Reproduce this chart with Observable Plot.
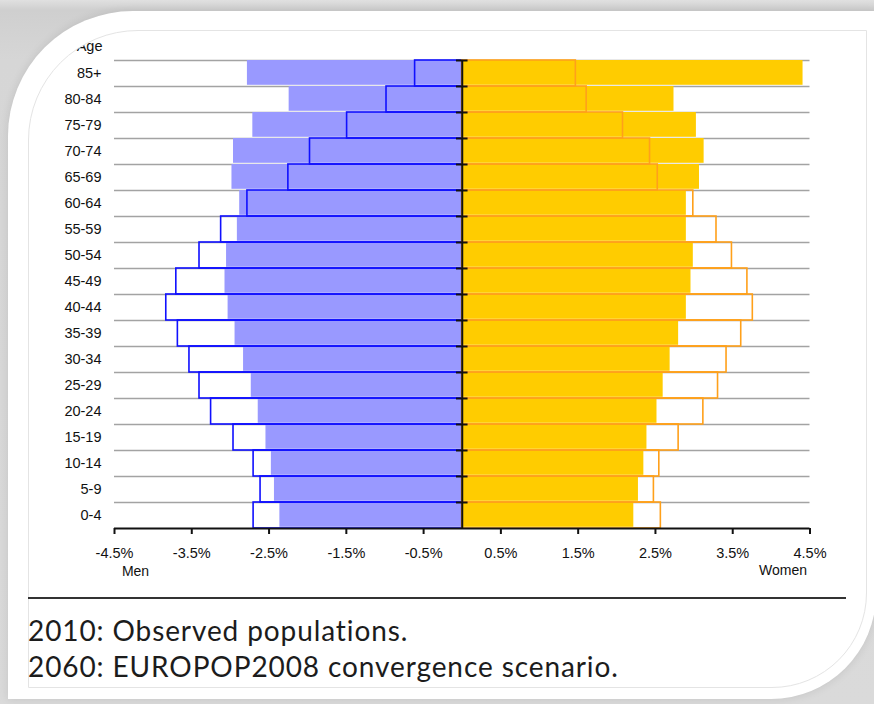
<!DOCTYPE html>
<html>
<head>
<meta charset="utf-8">
<script src="https://cdn.jsdelivr.net/npm/d3@7"></script>
<script src="https://cdn.jsdelivr.net/npm/@observablehq/plot@0.6"></script>
<style>
  html, body { margin: 0; padding: 0; }
  body { width: 874px; height: 704px; position: relative; overflow: hidden;
         background: linear-gradient(180deg, #e0e0e0 0px, #cfcfcf 10px, #d6d6d6 60px, #dadada 100%); }
  #card { position: absolute; left: 8px; top: 11px; right: -2px; bottom: 5px; background: #fff;
          border-radius: 125px 0 105px 0; box-shadow: 0 0 10px rgba(0,0,0,0.10); }
  #frame { position: absolute; left: 28px; top: 30px; width: 837px; height: 656px;
           border: 1px solid #e4e4e4; border-radius: 110px 0 95px 0; overflow: hidden; }
  #chart { position: absolute; left: -29px; top: -31px; width: 874px; height: 600px; }
  #chart svg { max-width: none; display: block; }
  #rule { position: absolute; left: 28px; top: 597px; width: 818px; height: 2px; background: #333; }
  #caption { position: absolute; left: 28px; top: 612px; font-family: Lato, "DejaVu Sans", sans-serif;
             font-size: 28px; letter-spacing: 0.9px; line-height: 36px; color: #1c1c1c; white-space: nowrap; }
</style>
</head>
<body>
<div id="card"></div>
<div id="frame"><div id="chart"></div></div>
<div id="rule"></div>
<div id="caption">2010: Observed populations.<br>2060: EUROPOP2008 convergence scenario.</div>
<script>
// Age groups, bottom to top
const ages = ["0-4","5-9","10-14","15-19","20-24","25-29","30-34","35-39","40-44","45-49",
              "50-54","55-59","60-64","65-69","70-74","75-79","80-84","85+"];
// Shares of total population (%)
const men2060   = [2.36,2.43,2.47,2.54,2.64,2.73,2.83,2.94,3.03,3.07,3.05,2.91,2.88,2.98,2.96,2.71,2.24,2.78];
const men2010   = [2.70,2.61,2.70,2.96,3.25,3.40,3.53,3.68,3.83,3.70,3.40,3.12,2.78,2.25,1.97,1.49,0.98,0.61];
const women2060 = [2.22,2.28,2.35,2.39,2.52,2.60,2.69,2.80,2.90,2.96,2.99,2.90,2.90,3.07,3.13,3.03,2.74,4.41];
const women2010 = [2.57,2.48,2.55,2.80,3.12,3.31,3.42,3.61,3.76,3.69,3.49,3.29,2.99,2.53,2.43,2.08,1.61,1.47];
const xTicks = [-4.5,-3.5,-2.5,-1.5,-0.5,0.5,1.5,2.5,3.5,4.5];

const table = ages.map((age, i) => ({
  age, i, m60: men2060[i], m10: men2010[i], w60: women2060[i], w10: women2010[i]
}));
const bounds = d3.range(1, ages.length + 1);
const mids = ages.map((a, i) => i + 0.5);

const font = "'Liberation Sans', Arial, sans-serif";

const chart = Plot.plot({
  width: 874,
  height: 600,
  marginLeft: 114,
  marginRight: 64.5,
  marginTop: 60,
  marginBottom: 72,
  style: { fontFamily: font, fontSize: "14px", color: "#111", background: "transparent" },
  x: { domain: [-4.5, 4.5] },
  y: { domain: [0, ages.length] },
  marks: [
    Plot.ruleY(bounds, { stroke: "#a3a3a3", strokeWidth: 1.6 }),
    Plot.rect(table, { x1: 0, x2: d => -d.m60, y1: "i", y2: d => d.i + 1, fill: "#9999ff", insetBottom: 1.2 }),
    Plot.rect(table, { x1: 0, x2: "w60", y1: "i", y2: d => d.i + 1, fill: "#ffcc00", insetBottom: 1.2 }),
    Plot.rect(table, { x1: 0, x2: d => -d.m10, y1: "i", y2: d => d.i + 1, fill: "none", stroke: "#1010ff", strokeWidth: 1.6 }),
    Plot.rect(table, { x1: 0, x2: "w10", y1: "i", y2: d => d.i + 1, fill: "none", stroke: "#ffa01a", strokeWidth: 1.6 }),
    Plot.ruleX([0], { y1: 0, y2: ages.length, stroke: "#111", strokeWidth: 2 }),
    Plot.ruleY(bounds, { x1: -0.075, x2: 0.075, stroke: "#111", strokeWidth: 2 }),
    Plot.ruleY([0], { stroke: "#111", strokeWidth: 2 }),
    Plot.axisX(xTicks, { tickSize: 6, tickPadding: 13, strokeWidth: 2, stroke: "#111",
                         tickFormat: d => `${d}%`, fontSize: 14.5, label: null }),
    Plot.axisY(mids, { tickSize: 0, tickPadding: 13, tickFormat: d => ages[Math.floor(d)],
                       fontSize: 14.5, label: null }),
    Plot.text(["Age"], { frameAnchor: "top-left", dx: -12, dy: -20, textAnchor: "end", fontSize: 14.5 }),
    Plot.text(["Men"], { frameAnchor: "bottom-left", dx: 21, dy: 47, textAnchor: "middle", fontSize: 14 }),
    Plot.text(["Women"], { frameAnchor: "bottom-right", dx: -27, dy: 46, textAnchor: "middle", fontSize: 14 })
  ]
});
document.getElementById("chart").appendChild(chart);
</script>
</body>
</html>
